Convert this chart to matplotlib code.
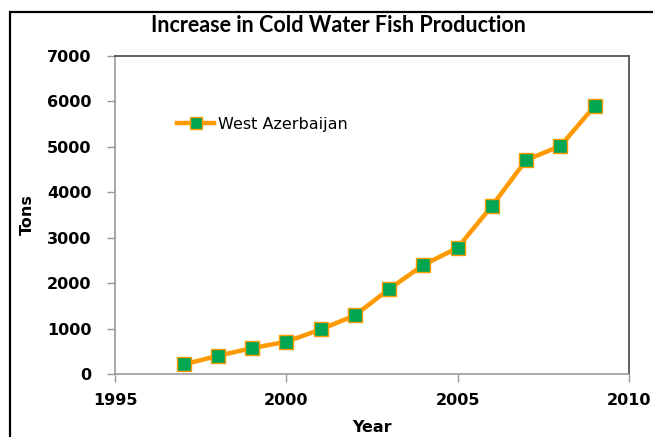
import matplotlib
matplotlib.use("Agg")
import matplotlib.pyplot as plt
from matplotlib.patches import Rectangle

years = [1997, 1998, 1999, 2000, 2001, 2002, 2003, 2004, 2005, 2006, 2007, 2008, 2009]
production = [210, 400, 570, 710, 980, 1290, 1870, 2400, 2780, 3700, 4710, 5020, 5900]
series_name = "West Azerbaijan"
x_ticks = [1995, 2000, 2005, 2010]
y_ticks = [0, 1000, 2000, 3000, 4000, 5000, 6000, 7000]

W, H = 653, 437
fig = plt.figure(figsize=(W / 100, H / 100), dpi=100)

# outer chart border
fig.patches.append(Rectangle((10 / W, -0.1), 1.2, 1 - 12 / H + 0.1,
                             transform=fig.transFigure, fill=False,
                             edgecolor="black", linewidth=1.6))

ax = fig.add_axes([115 / W, 1 - 374 / H, (629 - 115) / W, (374 - 56) / H])

ax.plot(years, production, color="#FF9900", linewidth=3.2,
        marker="s", markersize=9.5, markerfacecolor="#00A651",
        markeredgecolor="#FF9900", markeredgewidth=1.0, label=series_name)

ax.set_xlim(1995, 2010)
ax.set_ylim(0, 7000)
ax.set_xticks(x_ticks)
ax.set_yticks(y_ticks)

tick_font = dict(family="DejaVu Sans", weight="bold", size=11.5)
ax.set_xticklabels([str(t) for t in x_ticks], **tick_font)
ax.set_yticklabels([str(t) for t in y_ticks], **tick_font)
ax.tick_params(axis="both", direction="out", length=6, width=1,
               color="#999999")
ax.tick_params(axis="y", pad=11)
ax.tick_params(axis="x", pad=8)

for side in ("left", "bottom"):
    ax.spines[side].set_color("#999999")
    ax.spines[side].set_linewidth(1.2)
for side in ("top", "right"):
    ax.spines[side].set_color("#444444")
    ax.spines[side].set_linewidth(1.2)

ax.set_xlabel("Year", family="DejaVu Sans", weight="bold", size=11.5, labelpad=8)
ax.set_ylabel("Tons", family="DejaVu Sans", weight="bold", size=11.5, labelpad=9)

fig.text(338 / W, 1 - 25 / H, "Increase in Cold Water Fish Production",
         ha="center", va="center", family="Lato", weight="bold", size=15.5)

leg = ax.legend(loc="center left", bbox_to_anchor=(0.108, 0.786), frameon=False,
                handlelength=2.35, handletextpad=0.25, borderaxespad=0,
                markerscale=0.85,
                prop=dict(family="DejaVu Sans", size=11.5))

fig.savefig("out.png", dpi=100)
